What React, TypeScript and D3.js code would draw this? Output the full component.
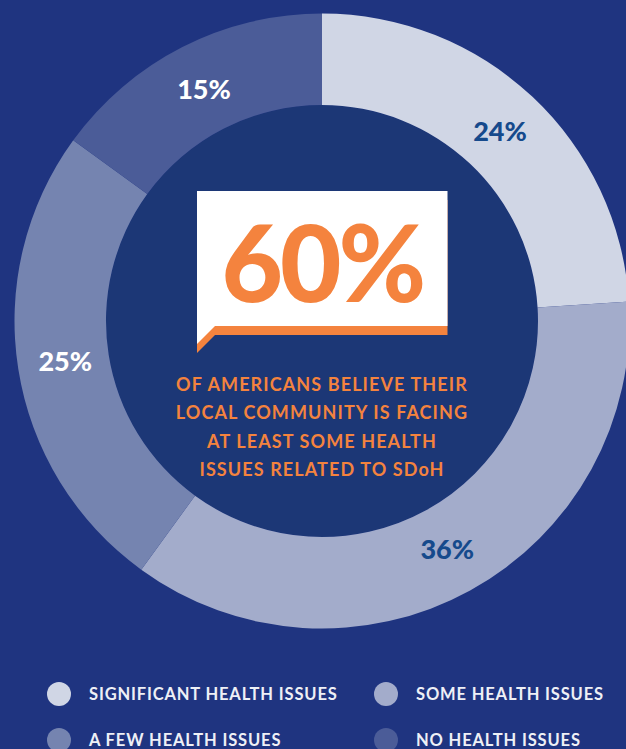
import React, { useEffect, useRef } from 'react';
import * as d3 from 'd3';

const categories = ['SIGNIFICANT HEALTH ISSUES', 'SOME HEALTH ISSUES', 'A FEW HEALTH ISSUES', 'NO HEALTH ISSUES'];
const values = [24, 36, 25, 15];
const sliceColors = ['#d0d6e5', '#a3accb', '#7584b0', '#4b5c98'];
const labelColors = ['#164a8c', '#164a8c', '#ffffff', '#ffffff'];
const headline = '60%';
const captionLines = [
  'OF AMERICANS BELIEVE THEIR',
  'LOCAL COMMUNITY IS FACING',
  'AT LEAST SOME HEALTH',
  'ISSUES RELATED TO SDoH',
];

const W = 626;
const H = 749;
const FONT = 'Lato, "Open Sans", sans-serif';

const App = () => {
  const ref = useRef<SVGSVGElement>(null);

  useEffect(() => {
    const svg = d3.select(ref.current);
    svg.selectAll('*').remove();

    svg.append('rect').attr('width', W).attr('height', H).attr('fill', '#1f3480');

    const cx = 322;
    const cy = 321;
    const outer = 307.5;
    const inner = 216;

    const data = categories.map((c, i) => ({ name: c, value: values[i], i }));

    const pie = d3.pie<any>().sort(null).value(d => d.value).startAngle(0).endAngle(2 * Math.PI);
    const arc = d3.arc<any>().innerRadius(inner).outerRadius(outer);
    const labelArc = d3.arc<any>().innerRadius(260).outerRadius(260);

    const g = svg.append('g').attr('transform', `translate(${cx},${cy})`);

    // center disc
    g.append('circle').attr('r', inner).attr('fill', '#1c3776');

    const arcs = pie(data);
    g.selectAll('.slice')
      .data(arcs)
      .enter()
      .append('path')
      .attr('class', 'slice')
      .attr('d', arc)
      .attr('fill', d => sliceColors[d.data.i]);

    g.selectAll('.lbl')
      .data(arcs)
      .enter()
      .append('text')
      .attr('class', 'lbl')
      .attr('x', d => labelArc.centroid(d)[0])
      .attr('y', d => labelArc.centroid(d)[1])
      .attr('dy', '0.36em')
      .attr('text-anchor', 'middle')
      .style('font-family', FONT)
      .style('font-weight', 900)
      .style('font-size', '27px')
      .style('fill', d => labelColors[d.data.i])
      .text(d => `${d.data.value}%`);

    // speech bubble
    const bx0 = 197, bx1 = 447.5, by0 = 191, by1 = 326, tail = 18;
    const bubble = (off: number) =>
      `M${bx0},${by0 + off}H${bx1}V${by1 + off}H${bx0 + tail}L${bx0},${by1 + tail + off}Z`;
    svg.append('path').attr('d', bubble(9)).attr('fill', '#f4833e');
    svg.append('path').attr('d', bubble(0)).attr('fill', '#ffffff');

    svg.append('text')
      .attr('x', (bx0 + bx1) / 2)
      .attr('y', 302)
      .attr('text-anchor', 'middle')
      .style('font-family', FONT)
      .style('font-weight', 900)
      .style('font-size', '106px')
      .style('letter-spacing', '-3px')
      .style('fill', '#f4833e')
      .text(headline);

    svg.append('g')
      .selectAll('text')
      .data(captionLines)
      .enter()
      .append('text')
      .attr('x', cx)
      .attr('y', (d, i) => 391 + i * 28.3)
      .attr('text-anchor', 'middle')
      .style('font-family', FONT)
      .style('font-weight', 700)
      .style('font-size', '18px')
      .style('letter-spacing', '1.1px')
      .style('fill', '#f4833e')
      .text(d => d);

    // legend
    const colX = [59, 386];
    const rowY = [694, 740];
    const leg = svg.append('g')
      .selectAll('g')
      .data(data)
      .enter()
      .append('g')
      .attr('transform', d => `translate(${colX[d.i % 2]},${rowY[Math.floor(d.i / 2)]})`);
    leg.append('circle').attr('r', 12).attr('fill', d => sliceColors[d.i]);
    leg.append('text')
      .attr('x', 30)
      .attr('dy', '0.36em')
      .style('font-family', FONT)
      .style('font-weight', 700)
      .style('font-size', '16.5px')
      .style('letter-spacing', '0.85px')
      .style('fill', '#eef0f6')
      .text(d => d.name);
  }, []);

  return (
    <svg
      ref={ref}
      width={W}
      height={H}
      style={{ position: 'absolute', left: 0, top: 0, display: 'block' }}
    />
  );
};

export default App;
